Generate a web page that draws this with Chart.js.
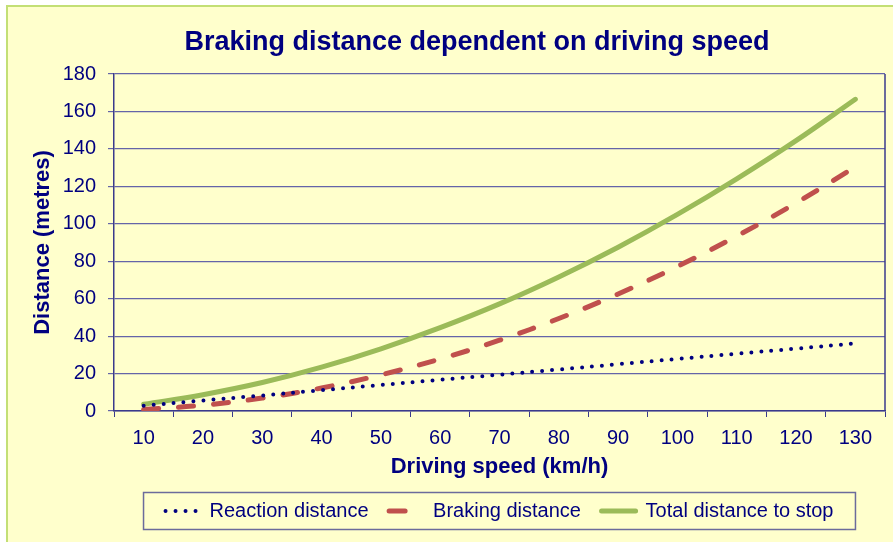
<!DOCTYPE html>
<html>
<head>
<meta charset="utf-8">
<title>Braking distance dependent on driving speed</title>
<script src="https://cdn.jsdelivr.net/npm/chart.js@4.4.1/dist/chart.umd.min.js"></script>
<style>
  html, body { margin: 0; padding: 0; background: #fff; }
  #box { width: 893px; height: 542px; }
</style>
</head>
<body>
<div id="box"><canvas id="chart" width="893" height="542"></canvas></div>
<script>
// === data ===
const speeds = ['10', '20', '30', '40', '50', '60', '70', '80', '90', '100', '110', '120', '130'];
const reaction = [2.8, 5.6, 8.3, 11.1, 13.9, 16.7, 19.4, 22.2, 25.0, 27.8, 30.6, 33.3, 36.1];
const braking = [0.8, 3.1, 6.9, 12.3, 19.3, 27.8, 37.8, 49.4, 62.5, 77.2, 93.4, 111.1, 130.4];
const total = [3.6, 8.7, 15.2, 23.4, 33.2, 44.5, 57.2, 71.6, 87.5, 105.0, 124.0, 144.4, 166.5];
const seriesNames = ['Reaction distance', 'Braking distance', 'Total distance to stop'];
const TITLE = 'Braking distance dependent on driving speed';

// === colours ===
const NAVY = '#000080';
const AXIS = '#3a3a8c';
const GRID = '#6464a8';
const YELLOW = '#ffffcc';
const FRAME = '#c3df75';

Chart.defaults.font.family = '"Liberation Sans", Arial, sans-serif';
Chart.defaults.color = NAVY;

// background, plot border, title and legend box
const decor = {
  id: 'decor',
  beforeDraw(chart) {
    const { ctx, width, height } = chart;
    ctx.save();
    ctx.fillStyle = '#fff';
    ctx.fillRect(0, 0, width, height);
    ctx.fillStyle = YELLOW;
    ctx.fillRect(7, 6, width - 7, height - 6);
    ctx.strokeStyle = FRAME;
    ctx.lineWidth = 2;
    ctx.beginPath();
    ctx.moveTo(7, height); ctx.lineTo(7, 6); ctx.lineTo(width, 6);
    ctx.stroke();
    ctx.restore();
  },
  beforeDatasetsDraw(chart) {
    const { ctx, chartArea: a } = chart;
    ctx.save();
    ctx.strokeStyle = AXIS;
    ctx.lineWidth = 1.5;
    ctx.beginPath();
    ctx.moveTo(a.right, a.top); ctx.lineTo(a.right, a.bottom);
    ctx.stroke();
    ctx.restore();
  },
  afterDraw(chart) {
    const { ctx } = chart;
    ctx.save();
    ctx.fillStyle = NAVY;
    ctx.font = 'bold 27px "Liberation Sans", Arial, sans-serif';
    ctx.textAlign = 'center';
    ctx.textBaseline = 'middle';
    ctx.fillText(TITLE, 477, 43);

    const boxes = chart.legend.legendHitBoxes;
    if (boxes && boxes.length) {
      const left = Math.min(...boxes.map(b => b.left)) - 22;
      const right = Math.max(...boxes.map(b => b.left + b.width)) + 22;
      const mid = boxes[0].top + boxes[0].height / 2;
      ctx.strokeStyle = '#6b6b9b';
      ctx.lineWidth = 1.5;
      ctx.strokeRect(left, mid - 18.5, right - left, 37);
    }
    ctx.restore();
  }
};

new Chart(document.getElementById('chart'), {
  type: 'line',
  data: {
    labels: speeds,
    datasets: [
      { label: seriesNames[0], data: reaction, borderColor: NAVY, borderWidth: 4,
        borderDash: [0, 10], borderCapStyle: 'round', pointRadius: 0, tension: 0.4, fill: false },
      { label: seriesNames[1], data: braking, borderColor: '#c0504d', borderWidth: 5,
        borderDash: [15, 20], borderCapStyle: 'round', pointRadius: 0, tension: 0.4, fill: false },
      { label: seriesNames[2], data: total, borderColor: '#9bbb59', borderWidth: 5,
        borderCapStyle: 'round', pointRadius: 0, tension: 0.4, fill: false }
    ]
  },
  options: {
    responsive: false,
    animation: false,
    events: [],
    layout: { padding: { left: 26, right: 8, top: 74, bottom: 11 } },
    plugins: {
      tooltip: { enabled: false },
      legend: {
        position: 'bottom',
        fullSize: false,
        labels: {
          usePointStyle: true,
          pointStyleWidth: 34,
          padding: 20.6,
          color: NAVY,
          font: { size: 20 },
          // the braking marker shows a single dash, like the reference
          generateLabels: chart => chart.data.datasets.map((ds, i) => ({
            text: ds.label,
            strokeStyle: ds.borderColor,
            fillStyle: ds.borderColor,
            lineWidth: ds.borderWidth,
            lineDash: i === 1 ? [16, 40] : ds.borderDash || [],
            lineCap: 'round',
            pointStyle: 'line',
            fontColor: NAVY,
            hidden: false,
            datasetIndex: i
          }))
        }
      }
    },
    scales: {
      x: {
        offset: true,
        grid: { offset: true, drawOnChartArea: false, color: AXIS, tickLength: 6 },
        border: { color: AXIS, width: 1.5 },
        ticks: { color: NAVY, font: { size: 20 }, padding: 9, maxRotation: 0, autoSkip: false },
        title: { display: true, text: 'Driving speed (km/h)', color: NAVY,
                 font: { size: 22, weight: 'bold' }, padding: { top: -5, bottom: 0 } }
      },
      y: {
        min: 0,
        max: 180,
        ticks: { stepSize: 20, color: NAVY, font: { size: 20 }, padding: 12 },
        grid: { color: GRID, lineWidth: 1.2, tickLength: 6 },
        border: { color: AXIS, width: 1.5 },
        title: { display: true, text: 'Distance (metres)', color: NAVY,
                 font: { size: 22, weight: 'bold' }, padding: { top: 4, bottom: 4 } },
        afterFit: s => { s.width = 88; }
      }
    }
  },
  plugins: [decor]
});
</script>
</body>
</html>
